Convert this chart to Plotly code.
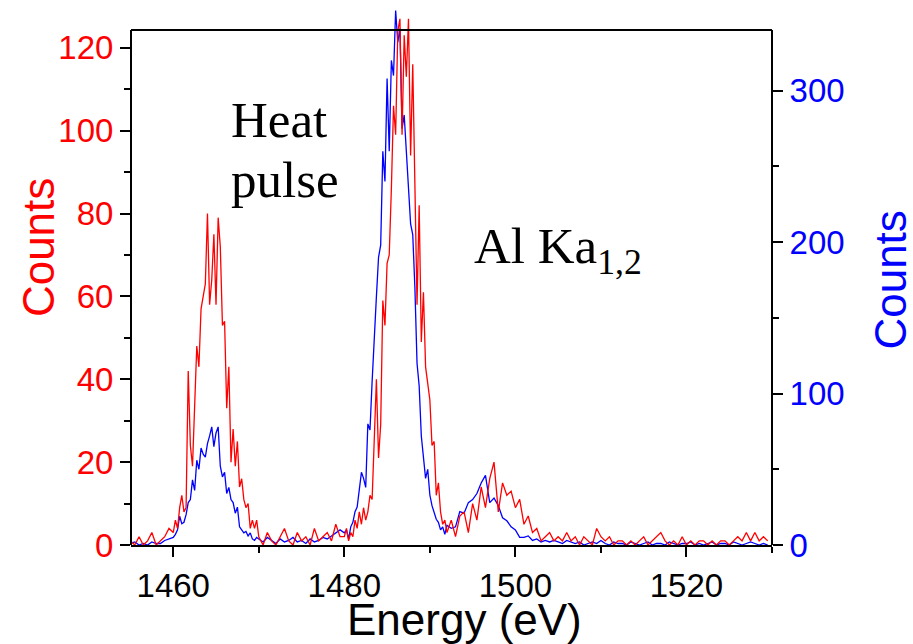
import plotly.graph_objects as go

# ---------------- data ----------------
energy = [
    1455.0, 1455.5, 1456.0, 1456.5, 1457.0, 1457.5, 1458.0, 1458.5, 1459.0, 1459.5,
    1460.0, 1460.25, 1460.5, 1460.75, 1461.0, 1461.25, 1461.5, 1461.75, 1462.0, 1462.25,
    1462.5, 1462.75, 1463.0, 1463.25, 1463.5, 1463.75, 1464.0, 1464.25, 1464.5, 1464.75,
    1465.0, 1465.25, 1465.5, 1465.75, 1466.0, 1466.25, 1466.5, 1466.75, 1467.0, 1467.25,
    1467.5, 1467.75, 1468.0, 1468.25, 1468.5, 1468.75, 1469.0, 1469.25, 1469.5, 1469.75,
    1470.0, 1470.5, 1471.0, 1471.5, 1472.0, 1472.5, 1473.0, 1473.5, 1474.0, 1474.5,
    1475.0, 1475.5, 1476.0, 1476.5, 1477.0, 1477.5, 1478.0, 1478.5, 1479.0, 1479.5,
    1480.0, 1480.25, 1480.5, 1480.75, 1481.0, 1481.25, 1481.5, 1481.75, 1482.0, 1482.25,
    1482.5, 1482.75, 1483.0, 1483.25, 1483.5, 1483.75, 1484.0, 1484.25, 1484.5, 1484.75,
    1485.0, 1485.25, 1485.5, 1485.75, 1486.0, 1486.25, 1486.5, 1486.75, 1487.0, 1487.25,
    1487.5, 1487.75, 1488.0, 1488.25, 1488.5, 1488.75, 1489.0, 1489.25, 1489.5, 1489.75,
    1490.0, 1490.25, 1490.5, 1490.75, 1491.0, 1491.25, 1491.5, 1491.75,
    1492.0, 1492.5, 1493.0, 1493.5, 1494.0, 1494.5, 1495.0, 1495.5, 1496.0, 1496.5,
    1497.0, 1497.5, 1498.0, 1498.5, 1499.0, 1499.5, 1500.0, 1500.5, 1501.0, 1501.5,
    1502.0, 1502.5, 1503.0, 1503.5, 1504.0, 1504.5,
    1505.0, 1505.5, 1506.0, 1506.5, 1507.0, 1507.5, 1508.0, 1508.5, 1509.0, 1509.5,
    1510.0, 1510.5, 1511.0, 1511.5, 1512.0, 1512.5, 1513.0, 1513.5, 1514.0, 1514.5,
    1515.0, 1515.5, 1516.0, 1516.5, 1517.0, 1517.5, 1518.0, 1518.5, 1519.0, 1519.5,
    1520.0, 1520.5, 1521.0, 1521.5, 1522.0, 1522.5, 1523.0, 1523.5, 1524.0, 1524.5,
    1525.0, 1525.5, 1526.0, 1526.5, 1527.0, 1527.5, 1528.0, 1528.5, 1529.0, 1529.5,
]

# red spectrum, left axis
red_counts = [
    1, 0, 2, 0, 1, 3, 0, 1, 2, 4,
    3, 6, 4, 9, 12, 8, 9, 42, 24, 19,
    36, 48, 43, 57, 60, 63, 80, 58, 64, 75,
    58, 79, 72, 53, 54, 33, 43, 20, 28, 19,
    25, 14, 16, 11, 9, 10, 4, 6, 4, 6,
    2, 0, 3, 1, 0, 2, 4, 1, 0, 3,
    1, 2, 0, 4, 1, 2, 3, 1, 5, 2,
    2, 4, 1, 3, 2, 6, 4, 8, 5, 9,
    6, 8, 12, 11, 28, 40, 21, 29, 59, 53,
    68, 70, 86, 106, 99, 124, 127, 99, 123, 113,
    127, 94, 116, 88, 58, 82, 49, 61, 43, 39,
    35, 24, 25, 12, 15, 8, 5, 6,
    3, 6, 2, 7, 8, 3, 10, 6, 14, 9,
    16, 20, 8, 15, 12, 13, 9, 11, 5, 7,
    3, 4, 1, 2, 3, 1,
    2, 1, 3, 1, 2, 0, 2, 1, 0, 4,
    2, 1, 2, 0, 1, 1, 0, 1, 0, 1,
    2, 0, 1, 2, 3, 1, 0, 1, 0, 2,
    0, 1, 0, 1, 1, 0, 1, 0, 1, 1,
    0, 1, 2, 1, 3, 1, 3, 1, 2, 1,
]

# blue spectrum, right axis
blue_counts = [
    1, 2, 0, 1, 0, 2, 1, 1, 3, 4,
    5, 7, 10, 19, 14, 15, 20, 28, 30, 43,
    36, 56, 50, 64, 60, 58, 67, 72, 78, 65,
    74, 78, 52, 45, 48, 34, 38, 30, 28, 21,
    25, 12, 10, 8, 9, 6, 8, 4, 3, 5,
    4, 2, 5, 3, 1, 4, 2, 3, 5, 2,
    3, 1, 4, 2, 3, 5, 4, 6, 8, 10,
    8, 10, 4, 12, 15, 22, 25, 35, 48, 44,
    38, 80, 76, 108, 141, 164, 190, 198, 260, 240,
    308, 260, 320, 310, 353, 332, 341, 275, 284, 258,
    230, 212, 205, 170, 120, 105, 72, 58, 44, 50,
    33, 26, 22, 17, 15, 10, 12, 7,
    13, 11, 12, 22, 21, 28, 30, 34, 41, 46,
    28, 31, 26, 18, 16, 12, 10, 5, 5, 6,
    3, 4, 2, 3, 2, 3,
    2, 1, 3, 2, 1, 2, 0, 1, 2, 1,
    3, 1, 0, 2, 1, 1, 0, 2, 1, 0,
    1, 2, 0, 1, 1, 0, 2, 1, 0, 1,
    1, 2, 0, 1, 0, 1, 2, 0, 1, 1,
    0, 2, 1, 0, 1, 2, 1, 0, 1, 0,
]

x_ticks = [1460, 1480, 1500, 1520]
x_minor = [1470, 1490, 1510, 1530]
red_ticks = [0, 20, 40, 60, 80, 100, 120]
red_minor = [10, 30, 50, 70, 90, 110]
blue_ticks = [0, 100, 200, 300]
blue_minor = [50, 150, 250]

# ---------------- figure ----------------
SANS = "Liberation Sans, Arial, sans-serif"
SERIF = "Liberation Serif, Times New Roman, serif"
FRAME_TOP = 0.959  # paper y of the visible top border

fig = go.Figure()
fig.add_trace(go.Scatter(x=energy, y=blue_counts, mode="lines",
                         line=dict(color="#0000FF", width=1.3),
                         yaxis="y", showlegend=False))
fig.add_trace(go.Scatter(x=energy, y=red_counts, mode="lines",
                         line=dict(color="#FF0000", width=1.3),
                         yaxis="y2", showlegend=False))

tick_common = dict(ticks="outside", ticklen=10, tickwidth=2, tickcolor="black",
                   showgrid=False, zeroline=False)

fig.update_layout(
    width=913, height=644,
    margin=dict(l=131, r=141, t=8, b=99),
    paper_bgcolor="white", plot_bgcolor="white",
    xaxis=dict(range=[1455.06, 1530.0], tickmode="array", tickvals=x_ticks,
               showline=True, linewidth=2, linecolor="black",
               tickfont=dict(family=SANS, size=33, color="black"),
               minor=dict(tickmode="array", tickvals=x_minor, ticks="outside",
                          ticklen=6, tickwidth=2, tickcolor="black", showgrid=False),
               **tick_common),
    yaxis=dict(range=[0, 354.6], side="right", tickmode="array", tickvals=blue_ticks,
               showline=False,
               tickfont=dict(family=SANS, size=33, color="#0000FF"),
               minor=dict(tickmode="array", tickvals=blue_minor, ticks="outside",
                          ticklen=6, tickwidth=2, tickcolor="black", showgrid=False),
               **tick_common),
    yaxis2=dict(range=[0, 129.6], side="left", overlaying="y", anchor="x",
                tickmode="array", tickvals=red_ticks, showline=False,
                tickfont=dict(family=SANS, size=33, color="#FF0000"),
                minor=dict(tickmode="array", tickvals=red_minor, ticks="outside",
                           ticklen=6, tickwidth=2, tickcolor="black", showgrid=False),
                **tick_common),
    shapes=[
        dict(type="line", xref="paper", yref="paper", x0=0, x1=0, y0=0, y1=FRAME_TOP,
             line=dict(color="black", width=2)),
        dict(type="line", xref="paper", yref="paper", x0=1, x1=1, y0=0, y1=FRAME_TOP,
             line=dict(color="black", width=2)),
        dict(type="line", xref="paper", yref="paper", x0=0, x1=1, y0=FRAME_TOP, y1=FRAME_TOP,
             line=dict(color="black", width=2)),
    ],
    annotations=[
        dict(text="Counts", xref="paper", yref="paper", x=-0.145, y=0.553,
             textangle=-90, showarrow=False, xanchor="center", yanchor="middle",
             font=dict(family=SANS, size=44, color="#FF0000")),
        dict(text="Counts", xref="paper", yref="paper", x=1.185, y=0.4935,
             textangle=-90, showarrow=False, xanchor="center", yanchor="middle",
             font=dict(family=SANS, size=44, color="#0000FF")),
        dict(text="Energy (eV)", xref="paper", yref="paper", x=0.521, y=-0.139,
             showarrow=False, xanchor="center", yanchor="middle",
             font=dict(family=SANS, size=44, color="black")),
        dict(text="Heat", xref="paper", yref="paper", x=0.153, y=0.792,
             showarrow=False, xanchor="left", yanchor="middle",
             font=dict(family=SERIF, size=51, color="black")),
        dict(text="pulse", xref="paper", yref="paper", x=0.153, y=0.6797,
             showarrow=False, xanchor="left", yanchor="middle",
             font=dict(family=SERIF, size=51, color="black")),
        dict(text="Al Ka<sub>1,2</sub>", xref="paper", yref="paper", x=0.532, y=0.549,
             showarrow=False, xanchor="left", yanchor="middle",
             font=dict(family=SERIF, size=51, color="black")),
    ],
)

fig.write_html("out.html")
